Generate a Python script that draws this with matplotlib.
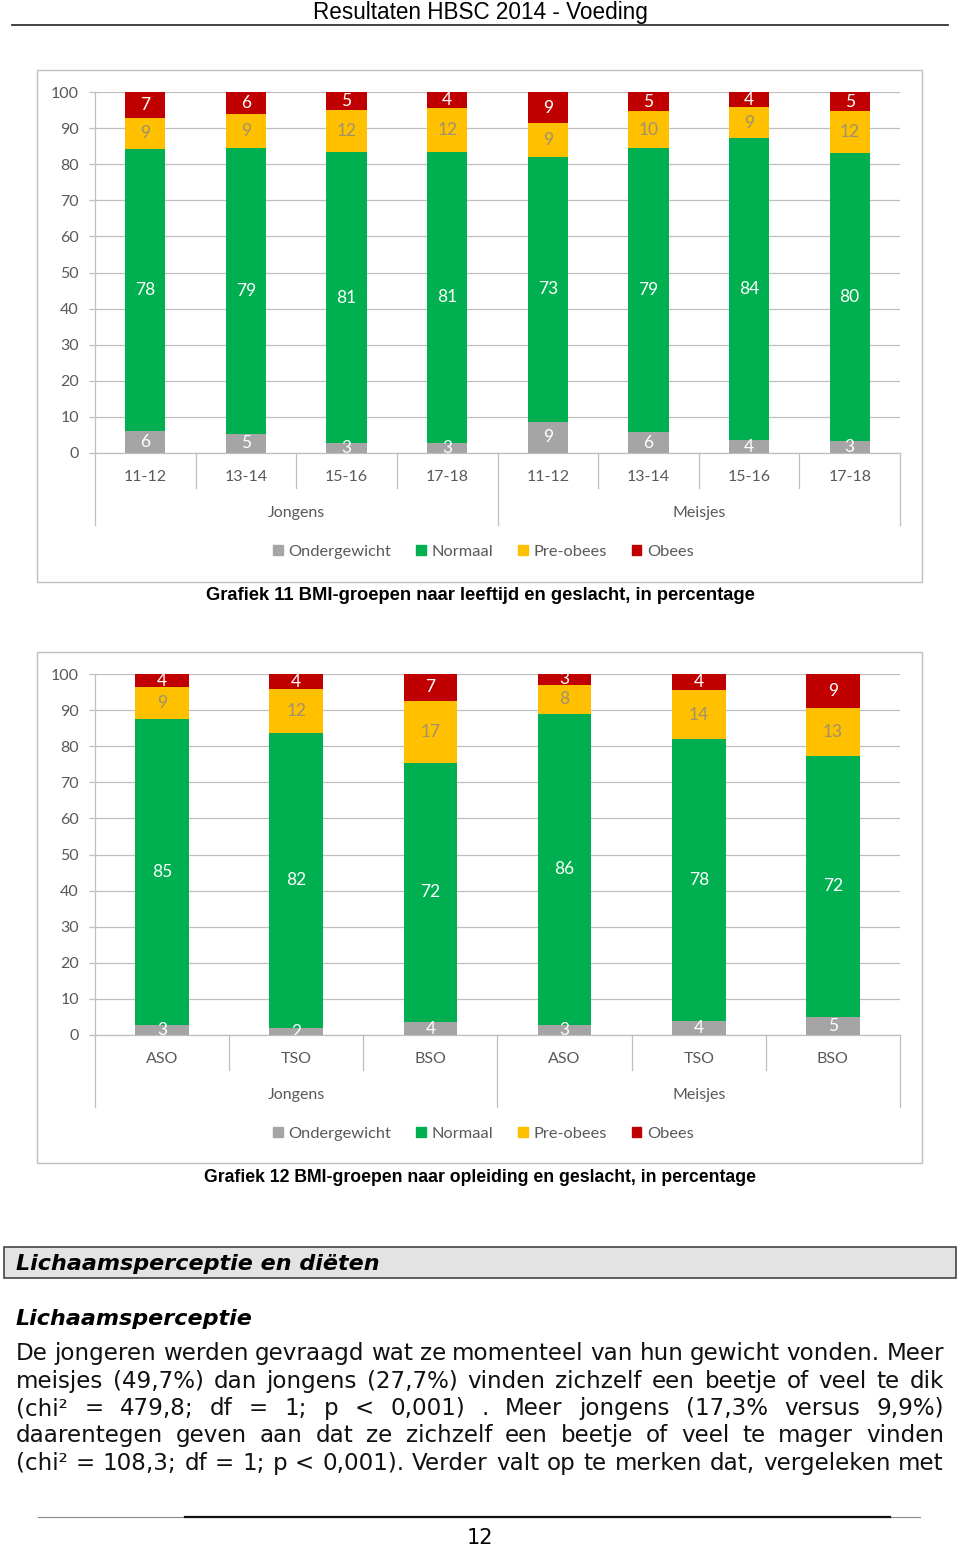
import numpy as np
import matplotlib
matplotlib.use('Agg')
import matplotlib.pyplot as plt
from matplotlib.patches import Rectangle, Patch

W, H = 960, 1546

# chart 11: BMI per leeftijd en geslacht
ages = ['11-12', '13-14', '15-16', '17-18']
genders = ['Jongens', 'Meisjes']
under1 = [6.1, 5.3, 2.7, 2.8, 8.6, 5.7, 3.6, 3.2]
normal1 = [78.1, 79.2, 80.6, 80.7, 73.4, 78.7, 83.6, 79.8]
pre1 = [8.7, 9.4, 11.6, 12.1, 9.4, 10.2, 8.6, 11.7]
obese1 = [7.1, 6.1, 5.1, 4.4, 8.6, 5.4, 4.2, 5.3]

# chart 12: BMI per opleiding en geslacht
levels = ['ASO', 'TSO', 'BSO']
under2 = [2.8, 1.9, 3.6, 2.8, 3.9, 5.0]
normal2 = [84.7, 81.8, 71.8, 86.1, 78.0, 72.3]
pre2 = [8.8, 12.1, 17.2, 8.1, 13.7, 13.4]
obese2 = [3.7, 4.2, 7.4, 3.0, 4.4, 9.3]

series_names = ['Ondergewicht', 'Normaal', 'Pre-obees', 'Obees']
colors = ['#a5a5a5', '#00b050', '#ffc000', '#c00000']
label_colors = ['white', 'white', '#9e9270', 'white']

caption1 = 'Grafiek 11 BMI-groepen naar leeftijd en geslacht, in percentage'
caption2 = 'Grafiek 12 BMI-groepen naar opleiding en geslacht, in percentage'

body = [
    'De jongeren werden gevraagd wat ze momenteel van hun gewicht vonden. Meer',
    'meisjes (49,7%) dan jongens (27,7%) vinden zichzelf een beetje of veel te dik',
    '(chi\u00b2 = 479,8; df = 1; p < 0,001) . Meer jongens (17,3% versus 9,9%)',
    'daarentegen geven aan dat ze zichzelf een beetje of veel te mager vinden',
    '(chi\u00b2 = 108,3; df = 1; p < 0,001). Verder valt op te merken dat, vergeleken met',
]

CHART_FONT = ['Lato', 'DejaVu Sans']
ARIAL = ['Liberation Sans', 'DejaVu Sans']
TXT = '#595959'
GRID = '#bfbfbf'


def fx(x):
    return x / W


def fy(y):
    return 1 - y / H


fig = plt.figure(figsize=(W / 100, H / 100), dpi=100)
renderer = fig.canvas.get_renderer()


def fitted(text, width_px, **kw):
    # font size that makes text span width_px
    t = fig.text(0, 0, text, fontsize=10, **kw)
    w = t.get_window_extent(renderer).width
    t.remove()
    return 10 * width_px / w


def chart(top_px, cats, series, frame_top, frame_bottom, caption, cap_y):
    n = len(cats) * len(genders)
    ax = fig.add_axes([fx(95), fy(top_px + 361), fx(805), 361 / H])
    x = np.arange(n)
    bottom = np.zeros(n)
    for vals, c, name, lc in zip(series, colors, series_names, label_colors):
        vals = np.array(vals)
        ax.bar(x, vals, 0.4, bottom=bottom, color=c, label=name, zorder=3)
        for xi, v, b in zip(x, vals, bottom):
            ax.text(xi, b + v / 2, f'{v:.0f}', ha='center', va='center',
                    color=lc, fontsize=12.5, family=CHART_FONT, clip_on=True, zorder=4)
        bottom += vals
    ax.set_xlim(-0.5, n - 0.5)
    ax.set_ylim(0, 100)
    ax.set_yticks(range(0, 101, 10))
    ax.set_xticks([])
    ax.grid(axis='y', color=GRID, lw=0.9, zorder=0)
    ax.tick_params(axis='y', length=4, width=0.9, color=GRID, pad=7.5,
                   labelsize=11.5, labelcolor=TXT)
    for lab in ax.get_yticklabels():
        lab.set_family(CHART_FONT)
    for s in ['top', 'right']:
        ax.spines[s].set_visible(False)
    for s in ['left', 'bottom']:
        ax.spines[s].set_color(GRID)
        ax.spines[s].set_linewidth(0.9)

    # multi-level category axis
    tr = ax.get_xaxis_transform()
    short = -35 / 361
    long = -72 / 361
    per = len(cats)
    for i in range(n + 1):
        xb = i - 0.5
        yb = long if i % per == 0 else short
        ax.plot([xb, xb], [0, yb], color=GRID, lw=0.9, transform=tr, clip_on=False)
    for i in range(n):
        ax.text(i, -24 / 361, cats[i % per], transform=tr, ha='center', va='center',
                fontsize=11.5, color=TXT, family=CHART_FONT)
    for g, name in enumerate(genders):
        ax.text(g * per + (per - 1) / 2, -60 / 361, name, transform=tr, ha='center',
                va='center', fontsize=11.5, color=TXT, family=CHART_FONT)

    handles = [Patch(color=c, label=nm) for c, nm in zip(colors, series_names)]
    leg = ax.legend(handles=handles, loc='center', bbox_to_anchor=(0.4826, -99 / 361),
                    ncol=4, frameon=False, handlelength=0.6, handleheight=0.6,
                    handletextpad=0.35, columnspacing=1.5,
                    prop={'family': CHART_FONT, 'size': 11.8})
    for t in leg.get_texts():
        t.set_color(TXT)

    fig.patches.append(Rectangle((fx(37), fy(frame_bottom)), fx(885), (frame_bottom - frame_top) / H,
                                 transform=fig.transFigure, fill=False, ec=GRID, lw=1.0))
    fig.text(0.5, fy(cap_y), caption, ha='center', va='center',
             fontsize=fitted(caption, 551, weight='bold', family=ARIAL),
             weight='bold', family=ARIAL)


chart(92, ages, [under1, normal1, pre1, obese1], 70, 582, caption1, 596)
chart(674, levels, [under2, normal2, pre2, obese2], 652, 1163, caption2, 1178)

# page header
title = 'Resultaten HBSC 2014 - Voeding'
fig.text(0.5, fy(12), title, ha='center', va='center',
         fontsize=fitted(title, 335, family=ARIAL), family=ARIAL)
fig.add_artist(plt.Line2D([fx(12), fx(948)], [fy(25), fy(25)], color='#333333', lw=1.3))

# section header box
fig.patches.append(Rectangle((fx(4), fy(1278)), fx(952), 31 / H, transform=fig.transFigure,
                             fc='#e3e3e3', ec='#444444', lw=1.2))
head = 'Lichaamsperceptie en di\u00ebten'
hs = fitted(head, 364, weight='bold', style='italic', family='DejaVu Sans')
fig.text(fx(16), fy(1264), head, ha='left', va='center',
         fontsize=hs, weight='bold', style='italic', family='DejaVu Sans')
fig.text(fx(16), fy(1319), 'Lichaamsperceptie', ha='left', va='center',
         fontsize=hs, weight='bold', style='italic', family='DejaVu Sans')

# justified body text
x0, x1 = 16, 944
bs = fitted(body[-1], x1 - x0, family='DejaVu Sans') * 0.99
line_y = [1360, 1388, 1415, 1442, 1470]
for line, yb in zip(body, line_y):
    words = line.split(' ')
    texts = [fig.text(fx(x0), fy(yb), w, ha='left', va='baseline', fontsize=bs,
                      family='DejaVu Sans', color='#111111') for w in words]
    widths = [t.get_window_extent(renderer).width for t in texts]
    gap = (x1 - x0 - sum(widths)) / (len(words) - 1)
    xp = x0
    for t, w in zip(texts, widths):
        t.set_x(fx(xp))
        xp += w + gap

# footer
fig.add_artist(plt.Line2D([fx(38), fx(920)], [fy(1517), fy(1517)], color='#888888', lw=0.8))
fig.add_artist(plt.Line2D([fx(185), fx(890)], [fy(1517), fy(1517)], color='#111111', lw=1.6))
fig.text(0.5, fy(1538), '12', ha='center', va='center', fontsize=15, family='DejaVu Sans')

fig.savefig('out.png', dpi=100)
